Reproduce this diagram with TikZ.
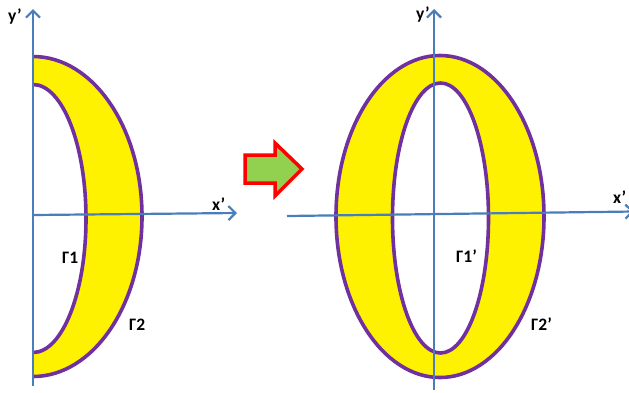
\documentclass[tikz,border=0pt]{standalone}
\usepackage{fontspec}
\setmainfont{Carlito}
\usetikzlibrary{arrows.meta}
\definecolor{axisblue}{HTML}{4A7EBB}
\definecolor{ringpurple}{HTML}{7030A0}
\definecolor{ringyellow}{HTML}{FFF200}
\definecolor{arrowgreen}{HTML}{92D050}
\definecolor{arrowred}{HTML}{FF0000}
\begin{document}
\begin{tikzpicture}[x=1pt,y=-1pt,
  axis/.style={draw=axisblue,line width=2.2pt,-{Straight Barb[length=7pt,width=14pt]}},
  ring/.style={draw=ringpurple,line width=3.6pt},
  band/.style={fill=ringyellow,even odd rule},
  lbl/.style={font=\fontsize{17.5}{17.5}\selectfont\bfseries,inner sep=0pt,anchor=base west},
  blockarrow/.style={fill=arrowgreen,draw=arrowred,line width=3.5pt,line join=miter}]
\useasboundingbox (0,0) rectangle (629,392);

% ---------- left figure ----------
\begin{scope}
  \clip (33,0) rectangle (300,392);
  \path[band] (33,216.5) ellipse[x radius=109,y radius=160]
              (33,218.5) ellipse[x radius=53,y radius=134];
  \draw[ring] (33,216.5) ellipse[x radius=109,y radius=160];
  \draw[ring] (33,218.5) ellipse[x radius=53,y radius=134];
\end{scope}
\coordinate (lyb) at (33,386);
\coordinate (lyt) at (33,9);
\coordinate (lxl) at (33,215);
\coordinate (lxr) at (237,213);
\draw[axis] (lyb) -- (lyt);
\draw[axis] (lxl) -- (lxr);
\node[lbl] (ly) at (8,21) {y’};
\node[lbl] (lx) at (212,210) {x’};
\node[lbl] (g1) at (62,263) {Γ1};
\node[lbl] (g2) at (129,330) {Γ2};

% ---------- block arrow ----------
\path[blockarrow] (245,155) -- (275,155) -- (275,143) -- (302,169)
  -- (275,196) -- (275,183) -- (245,183) -- cycle;

% ---------- right figure ----------
\path[band] (440,216.5) ellipse[x radius=104,y radius=161]
            (440.5,218) ellipse[x radius=48,y radius=135];
\draw[ring] (440,216.5) ellipse[x radius=104,y radius=161];
\draw[ring] (440.5,218) ellipse[x radius=48,y radius=135];
\coordinate (ryb) at (434,390);
\coordinate (ryt) at (434,9);
\coordinate (rxl) at (287,216);
\coordinate (rxr) at (634,211.5);
\draw[axis] (ryb) -- (ryt);
\draw[axis] (rxl) -- (rxr);
\node[lbl] (ry) at (416,19) {y’};
\node[lbl] (rx) at (613,203) {x’};
\node[lbl] (g1p) at (456,262) {Γ1’};
\node[lbl] (g2p) at (531,330) {Γ2’};
\end{tikzpicture}
\end{document}
